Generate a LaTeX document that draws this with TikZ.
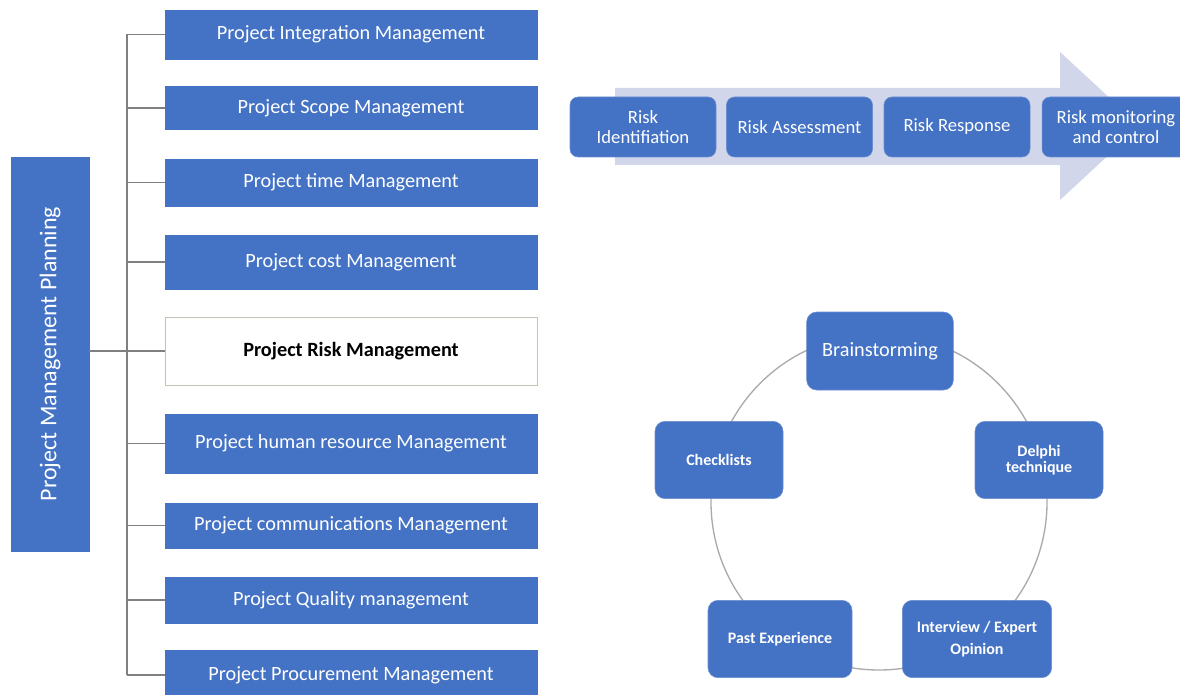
\documentclass[tikz,border=0pt]{standalone}
\usepackage{fontspec}
\setmainfont{Carlito}
\usepackage{graphicx}
\usepackage{xcolor}
\definecolor{officeblue}{RGB}{68,114,196}
\definecolor{treegray}{RGB}{128,128,128}
\definecolor{ringgray}{RGB}{170,170,170}
\definecolor{flowlilac}{RGB}{210,214,234}
\definecolor{riskedge}{RGB}{196,196,180}
\usepackage{tikz}
\usetikzlibrary{positioning}

\begin{document}
\begin{tikzpicture}[
  x=0.75pt, y=-0.75pt,
  plan/.style={
    rectangle, draw=officeblue, fill=officeblue,
    minimum width=58.5pt, minimum height=295.5pt, inner sep=0pt,
    font=\fontsize{18}{21}\selectfont\color{white}
  },
  area/.style={
    rectangle, draw=officeblue, fill=officeblue,
    minimum width=279pt, minimum height=35pt, inner sep=0pt,
    font=\fontsize{15.2}{18}\selectfont\color{white}
  },
  focus/.style={
    area, draw=riskedge, fill=white, line width=0.6pt,
    font=\fontsize{15.2}{18}\selectfont\bfseries\color{black}
  },
  phase/.style={
    rectangle, rounded corners=6pt, draw=officeblue!80!white, fill=officeblue,
    minimum width=109.5pt, minimum height=45pt, inner sep=2pt,
    align=center, font=\fontsize{14}{15}\selectfont\color{white}
  },
  tech/.style={
    rectangle, rounded corners=7.5pt, draw=officeblue!80!white, fill=officeblue,
    minimum width=96pt, minimum height=58pt, inner sep=2pt,
    align=center, font=\fontsize{12}{16}\selectfont\bfseries\color{white}
  },
  link/.style={draw=treegray, line width=1.2pt},
]

\useasboundingbox (0,0) rectangle (1180,695);
\clip (0,0) rectangle (1180,695);

%% Knowledge areas
\node[plan] (plan) at (50,354) {\rotatebox{90}{Project Management Planning}};

\node[area]  (integ)   at (351,34.5) [minimum height=36.75pt] {Project Integration Management};
\node[area]  (scope)   at (351,108)  [minimum height=32pt]    {Project Scope Management};
\node[area]  (time)    at (351,182.5)[minimum height=35.25pt] {Project time Management};
\node[area]  (cost)    at (351,262)  [minimum height=40.5pt]  {Project cost Management};
\node[focus] (risk)    at (351,351)  [minimum height=51pt]    {Project Risk Management};
\node[area]  (human)   at (351,443.5)[minimum height=44.25pt] {Project human resource Management};
\node[area]  (comms)   at (351,525.5)[minimum height=33.75pt] {Project communications Management};
\node[area]  (quality) at (351,600)  [minimum height=34.5pt]  {Project Quality management};
\node[area]  (procure) at (351,675)  [minimum height=37.5pt]  {Project Procurement Management};

%% Tree lines
\coordinate (bus) at (127,351);
\draw[link] (plan.east |- bus) -- (bus);
\draw[link] (bus |- integ.west) -- (bus |- procure.west);
\foreach \b in {integ,scope,time,cost,risk,human,comms,quality,procure}
  \draw[link] (bus |- \b.west) -- (\b.west);

%% Risk process flow
\fill[flowlilac] (615,88) -- (1060,88) -- (1060,52) -- (1140,126)
  -- (1060,200) -- (1060,165) -- (615,165) -- cycle;

\node[phase] (ident)   at (643,127)    {Risk\\Identifiation};
\node[phase] (assess)  at (799.5,127)  {Risk Assessment};
\node[phase] (respond) at (957,127)    {Risk Response};
\node[phase] (monitor) at (1116,127) [minimum width=111pt] {Risk monitoring\\and control};

%% Identification techniques
\draw[ringgray, line width=1pt] (879,502) circle [radius=126pt];

\node[tech] (brain)     at (880,351) [minimum width=110pt, minimum height=58.5pt,
                                     font=\fontsize{15.2}{18}\selectfont\color{white}] {Brainstorming};
\node[tech] (check)     at (719,460)  {Checklists};
\node[tech] (delphi)    at (1039,460) [font=\fontsize{12}{12.5}\selectfont\bfseries\color{white}] {Delphi\\technique};
\node[tech] (past)      at (780,639)  [minimum width=108pt] {Past Experience};
\node[tech] (interview) at (977,639)  [minimum width=112pt] {Interview / Expert\\Opinion};

\end{tikzpicture}
\end{document}
